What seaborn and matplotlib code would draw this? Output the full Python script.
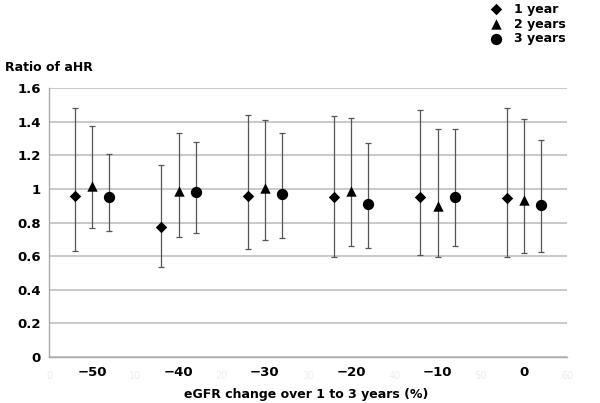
import matplotlib
matplotlib.use("Agg")
from matplotlib import pyplot as plt
import pandas as pd
import seaborn as sns
import numpy as np

# eGFR change groups (label placed at group centre)
groups = ["\u221250", "\u221240", "\u221230", "\u221220", "\u221210", "0"]
series = ["1 year", "2 years", "3 years"]

ahr_1y = [0.96, 0.775, 0.96, 0.952, 0.952, 0.946]
lo_1y = [0.63, 0.535, 0.64, 0.597, 0.609, 0.597]
hi_1y = [1.48, 1.145, 1.44, 1.435, 1.467, 1.481]

ahr_2y = [1.02, 0.99, 1.005, 0.99, 0.90, 0.934]
lo_2y = [0.77, 0.715, 0.695, 0.66, 0.595, 0.617]
hi_2y = [1.375, 1.335, 1.41, 1.42, 1.358, 1.418]

ahr_3y = [0.95, 0.98, 0.97, 0.912, 0.95, 0.906]
lo_3y = [0.75, 0.74, 0.71, 0.646, 0.662, 0.625]
hi_3y = [1.205, 1.28, 1.33, 1.273, 1.358, 1.293]

offsets = [3, 5, 7]

rows = []
for s, (v, lo, hi), off in zip(series, [(ahr_1y, lo_1y, hi_1y), (ahr_2y, lo_2y, hi_2y),
                                       (ahr_3y, lo_3y, hi_3y)], offsets):
    for i, g in enumerate(groups):
        rows.append({"series": s, "group": g, "x": i * 10 + off,
                     "ahr": v[i], "lo": lo[i], "hi": hi[i]})
df = pd.DataFrame(rows)

sns.set_style("white")
plt.rcParams["text.color"] = "black"
plt.rcParams["axes.labelcolor"] = "black"
plt.rcParams["ytick.color"] = "black"
fig = plt.figure(figsize=(6, 4.03), dpi=100)
ax = fig.add_axes([0.0817, 0.1141, 0.8633, 0.6675])

# error bars
ax.errorbar(df["x"], df["ahr"], yerr=[df["ahr"] - df["lo"], df["hi"] - df["ahr"]],
            fmt="none", ecolor="#555555", elinewidth=0.9, capsize=2.5, capthick=0.9, zorder=2)

markers = {"1 year": "D", "2 years": "^", "3 years": "o"}
sizes = {"1 year": 34, "2 years": 56, "3 years": 66}
for s in series:
    sub = df[df["series"] == s]
    sns.scatterplot(data=sub, x="x", y="ahr", marker=markers[s], s=sizes[s],
                    color="black", edgecolor="black", linewidth=0, ax=ax,
                    label=s, zorder=3)

ax.set_xlim(0, 60)
ax.set_ylim(0, 1.6)
ax.set_yticks(np.arange(0, 1.61, 0.2))
ax.set_yticklabels(["0", "0.2", "0.4", "0.6", "0.8", "1", "1.2", "1.4", "1.6"],
                   fontweight="bold", fontsize=9.5)
ax.yaxis.grid(True, color="#c0c0c0", linewidth=1.2)
ax.set_axisbelow(True)

# faint numeric ticks of the underlying axis
ax.set_xticks(np.arange(0, 61, 10))
ax.set_xticklabels([str(t) for t in range(0, 61, 10)], color="#eeeeee", fontsize=7)
ax.tick_params(axis="x", direction="out", length=4, color="#aaaaaa", pad=6)
ax.tick_params(axis="y", length=0, pad=6)
for i, g in enumerate(groups):
    ax.text(i * 10 + 5, -0.095, g, ha="center", va="center",
            fontweight="bold", fontsize=9.5)

for side in ["top", "right"]:
    ax.spines[side].set_visible(False)
for side in ["left", "bottom"]:
    ax.spines[side].set_color("#aaaaaa")
    ax.spines[side].set_linewidth(1.0)

ax.set_xlabel("")
ax.set_ylabel("")
fig.text(0.51, 0.02, "eGFR change over 1 to 3 years (%)", fontweight="bold", fontsize=9,
         ha="center", va="center")
fig.text(0.008, 0.832, "Ratio of aHR", fontweight="bold", fontsize=9, ha="left", va="center")

ax.get_legend().remove()
handles, labels = ax.get_legend_handles_labels()
fig.legend(handles, labels, loc="upper right", bbox_to_anchor=(0.955, 1.012), frameon=False,
           prop={"weight": "bold", "size": 9}, handletextpad=0.4,
           labelspacing=0.15, borderaxespad=0.2)

plt.savefig("out.png", dpi=100)
